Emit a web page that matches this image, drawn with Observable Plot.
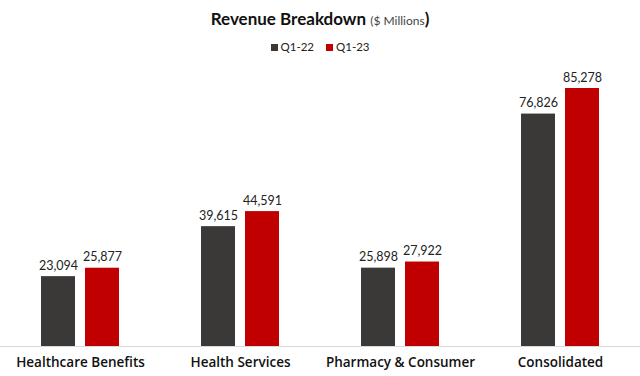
<!DOCTYPE html>
<html><head><meta charset="utf-8">
<script src="https://cdn.jsdelivr.net/npm/d3@7"></script>
<script src="https://cdn.jsdelivr.net/npm/@observablehq/plot@0.6"></script>
<style>
body{margin:0;background:#fff;font-family:Lato,"Open Sans",sans-serif;}
#head{position:relative;width:640px;height:60px;}
#title{position:absolute;left:0;width:640px;top:7px;text-align:center;font-size:17px;font-weight:700;color:#111;line-height:24px;}
#title span{font-size:12px;font-weight:400;color:#444;}
#legend{position:absolute;left:0;width:640px;top:39px;text-align:center;font-size:11.5px;color:#222;line-height:16px;}
.sw{display:inline-block;width:7px;height:7px;margin-right:3px;vertical-align:0px;}
.item{margin:0 6px;}
</style></head>
<body>
<div id="head">
<div id="title">Revenue Breakdown <span>($ Millions</span>)</div>
<div id="legend"></div>
</div>
<div id="chart"></div>
<script>
const categories = ["Healthcare Benefits", "Health Services", "Pharmacy & Consumer", "Consolidated"];
const seriesNames = ["Q1-22", "Q1-23"];
const q122 = [23094, 39615, 25898, 76826];
const q123 = [25877, 44591, 27922, 85278];
const colors = ["#3a3937", "#c00000"];

const data = [];
categories.forEach((c, i) => {
  data.push({category: c, series: seriesNames[0], value: q122[i]});
  data.push({category: c, series: seriesNames[1], value: q123[i]});
});

document.getElementById("legend").innerHTML = seriesNames.map((s, i) =>
  `<span class="item"><span class="sw" style="background:${colors[i]}"></span>${s}</span>`).join("");

const chart = Plot.plot({
  width: 640,
  height: 316,
  marginTop: 28,
  marginBottom: 30,
  marginLeft: 0,
  marginRight: 0,
  style: {fontFamily: "Lato, 'Open Sans', sans-serif", background: "#fff"},
  fx: {domain: categories, padding: 0, label: null},
  x: {domain: seriesNames, paddingInner: 0.22, paddingOuter: 0.89, axis: null},
  y: {domain: [0, 85278], axis: null},
  color: {domain: seriesNames, range: colors},
  marks: [
    Plot.barY(data, {fx: "category", x: "series", y: "value", fill: "series"}),
    Plot.text(data, {fx: "category", x: "series", y: "value", text: d => d3.format(",")(d.value),
      dy: -7, lineAnchor: "bottom", fontSize: 12.5, fill: "#222"}),
    Plot.ruleY([0], {stroke: "#d9d9d9", strokeWidth: 1}),
    Plot.axisFx({anchor: "bottom", tickSize: 0, tickPadding: 11, fontSize: 13.5, fontWeight: 600,
      fontFamily: "'Open Sans', sans-serif", fill: "#111", label: null})
  ]
});
document.getElementById("chart").appendChild(chart);
</script>
</body></html>
